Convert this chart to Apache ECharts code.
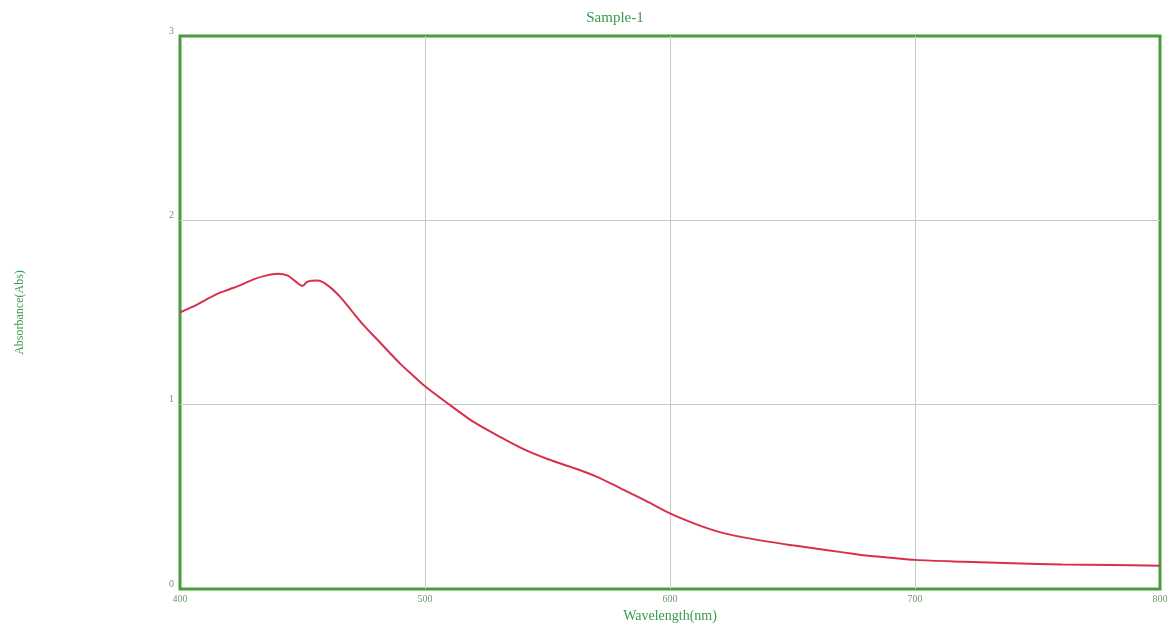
<!DOCTYPE html>
<html>
<head>
<meta charset="utf-8">
<script src="https://cdn.jsdelivr.net/npm/echarts@6/dist/echarts.min.js"></script>
<style>html,body{margin:0;padding:0;background:#fff}#c{width:1175px;height:624px}</style>
</head>
<body>
<div id="c"></div>
<script>
var wavelength = [400,405,410,415,420,425,430,435,440,444,447,450,452,456,460,465,470,475,480,485,490,495,500,510,520,530,540,550,560,570,580,590,600,610,620,630,640,650,660,670,680,690,700,720,740,760,780,800];
var absorbance = [1.50,1.53,1.565,1.60,1.625,1.65,1.68,1.70,1.71,1.70,1.67,1.645,1.667,1.673,1.65,1.59,1.51,1.43,1.36,1.29,1.22,1.16,1.10,1.00,0.905,0.83,0.76,0.705,0.66,0.61,0.545,0.48,0.41,0.355,0.31,0.28,0.257,0.237,0.218,0.20,0.182,0.17,0.158,0.148,0.14,0.133,0.13,0.126];
var titleText = 'Sample-1';
var xName = 'Wavelength(nm)';
var yName = 'Absorbance(Abs)';

var pts = wavelength.map(function(w,i){return [w, absorbance[i]];});
var font = '"Liberation Serif","DejaVu Serif",serif';
var chart = echarts.init(document.getElementById('c'));
chart.setOption({
  animation: false,
  backgroundColor: '#ffffff',
  title: {text: titleText, left: 610, top: 6, textAlign: 'center',
    textStyle: {fontFamily: font, fontSize: 15, fontWeight: 'normal', color: '#3a9a4a'}},
  grid: {left: 180, right: 15, top: 36, bottom: 35, show: true, outerBoundsMode: 'none', containLabel: false,
    borderColor: '#4a9c3e', borderWidth: 3, backgroundColor: 'transparent'},
  xAxis: {type: 'value', min: 400, max: 800, interval: 100,
    name: xName, nameLocation: 'middle', nameGap: 20,
    nameTextStyle: {fontFamily: font, fontSize: 14, color: '#3a9a4a'},
    axisLine: {show: false}, axisTick: {show: false},
    axisLabel: {fontFamily: font, fontSize: 10, color: '#6f9a6f', margin: 5},
    splitLine: {show: true, showMinLine: false, showMaxLine: false, lineStyle: {color: '#c3cbc3', width: 1}}},
  yAxis: {type: 'value', min: 0, max: 3, interval: 1,
    name: yName, nameLocation: 'middle', nameGap: 154, nameRotate: 90,
    nameTextStyle: {fontFamily: font, fontSize: 12, color: '#3a9a4a'},
    axisLine: {show: false}, axisTick: {show: false},
    axisLabel: {fontFamily: font, fontSize: 10, color: '#6f9a6f', margin: 6, verticalAlign: 'bottom'},
    splitLine: {show: true, showMinLine: false, showMaxLine: false, lineStyle: {color: '#c3cbc3', width: 1}}},
  series: [{type: 'line', data: pts, showSymbol: false, smooth: 0.3,
    lineStyle: {color: '#d8304a', width: 2}}]
});
</script>
</body>
</html>
